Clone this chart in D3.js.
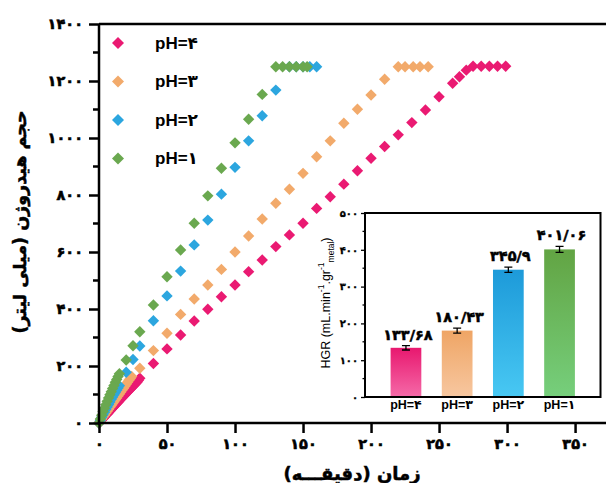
<!DOCTYPE html>
<html lang="fa">
  <head>
    <meta charset="utf-8">
    <title>Hydrogen volume vs time</title>
    <script src="https://d3js.org/d3.v7.js"></script>
    <style>
      body { margin: 0; background: white; }
    </style>
  </head>

  <body>
    <svg></svg>

  <script>

// data

  const series = ["pH=۴", "pH=۳", "pH=۲", "pH=۱"];
  const colors = ["#ea1a72", "#f2aa6b", "#2ca6df", "#6aa84f"];

  const timePH4 = [0,1,2,3,4,5,6,7,8,9,10,11,12,13,14,15,16,17,18,19,20,21,22,23,24,25,26,27,28,29,30,
                   40,50,60,70,80,90,100,110,120,130,140,150,160,170,180,190,200,210,220,230,240,250,260,265,270,275,281,287,293,299];
  const volPH4  = [0,6,11,16,21,27,32,37,42,47,53,58,63,68,73,79,84,89,94,99,104,109,114,119,124,129,134,139,144,150,157,
                   209,260,309,358,399,443,484,531,572,619,660,701,753,794,838,885,929,970,1011,1054,1098,1145,1192,1215,1238,1252,1252,1252,1252,1252];

  const timePH3 = [0,1,2,3,4,5,6,7,8,9,10,11,12,13,14,15,16,17,18,19,20,21,22,23,24,
                   30,40,50,60,70,80,90,100,110,120,130,140,150,160,170,180,190,200,210,220,225,231,236,242];
  const volPH3  = [0,7,14,21,27,34,41,48,55,61,68,75,82,88,95,102,109,116,122,129,136,143,150,156,163,
                   192,254,315,381,435,484,539,600,656,716,771,820,876,934,990,1052,1101,1151,1206,1250,1250,1250,1250,1250];

  const timePH2 = [0,1,2,3,4,5,6,7,8,9,10,11,12,13,14,15,
                   20,25,30,40,50,60,70,80,90,100,110,120,130,140,145,150,155,160];
  const volPH2  = [0,10,20,29,38,47,56,65,74,83,91,99,107,115,123,131,
                   178,223,270,359,446,533,625,712,803,897,990,1078,1168,1250,1250,1250,1250,1250];

  const timePH1 = [0,1,2,3,4,5,6,7,8,9,10,11,12,13,14,15,
                   20,25,30,40,50,60,70,80,90,100,110,120,130,135,140,145,150,153];
  const volPH1  = [0,14,27,40,52,64,76,88,99,110,121,132,143,153,163,173,
                   221,271,320,414,513,607,701,797,894,983,1066,1153,1250,1250,1250,1250,1250,1250];

  const xTicks = [0, 50, 100, 150, 200, 250, 300, 350];
  const yTicks = [0, 200, 400, 600, 800, 1000, 1200, 1400];

// inset bar chart
  const hgrValues = [133.68, 180.43, 345.9, 401.06];
  const hgrErrors = [6, 7, 7, 8];
  const hgrLabels = ["۱۳۳/۶۸", "۱۸۰/۴۳", "۳۴۵/۹", "۴۰۱/۰۶"];
  const insetTicks = [0, 100, 200, 300, 400, 500];

  const barTop = ["#e8186f", "#efa565", "#1d9ad9", "#62a443"];
  const barBottom = ["#f56aa8", "#f7c7a0", "#48c8f3", "#76cf7c"];

  const w = 606;
  const h = 483;

  const faDigits = "۰۱۲۳۴۵۶۷۸۹";
  const toFa = v => String(v).replace(/\d/g, c => faDigits[+c]);

  const numFont = "'DejaVu Sans', sans-serif";
  const latFont = "'Liberation Sans', Arial, 'DejaVu Sans', sans-serif";

  // heavy look for the persian digits
  const heavy = (sel, sw) => sel
      .attr("font-family", numFont)
      .attr("font-weight", "bold")
      .attr("fill", "black")
      .attr("stroke", "black")
      .attr("stroke-width", sw);

  const svg = d3.select("svg")
      .attr("width", w)
      .attr("height", h);

  svg.append("rect")
      .attr("width", w)
      .attr("height", h)
      .attr("fill", "white");

  const x = d3.scaleLinear()
      .domain([0, 372])
      .range([99, 605]);

  const y = d3.scaleLinear()
      .domain([0, 1400])
      .range([423, 24]);

// points, pH=4 first so pH=1 ends on top

  const diamond = r => `M0,${-r}L${r},0L0,${r}L${-r},0Z`;

  const allSeries = [
    {times: timePH4, vols: volPH4},
    {times: timePH3, vols: volPH3},
    {times: timePH2, vols: volPH2},
    {times: timePH1, vols: volPH1}
  ];

  allSeries.forEach((s, i) => {
    svg.append("g")
      .selectAll("path")
      .data(s.times.map((t, j) => ({t: t, v: s.vols[j]})))
      .enter().append("path")
        .attr("d", diamond(5.7))
        .attr("transform", d => `translate(${x(d.t)},${y(d.v)})`)
        .attr("fill", colors[i]);
  });

// axes

  const xAxis = svg.append("g")
      .attr("transform", "translate(0,423)")
      .call(d3.axisBottom(x).tickValues(xTicks).tickSize(10).tickSizeOuter(0)
            .tickPadding(6).tickFormat(toFa));

  xAxis.selectAll(".tick")
      .data(xTicks.map(v => v + 25))
      .enter().append("line")
        .attr("x1", d => x(d)).attr("x2", d => x(d))
        .attr("y1", 0).attr("y2", 6);

  const yAxis = svg.append("g")
      .attr("transform", "translate(99,0)")
      .call(d3.axisLeft(y).tickValues(yTicks).tickSize(10).tickSizeOuter(0)
            .tickPadding(6).tickFormat(toFa));

  yAxis.append("g").selectAll("line")
      .data(yTicks.slice(0, -1).map(v => v + 100))
      .enter().append("line")
        .attr("y1", d => y(d)).attr("y2", d => y(d))
        .attr("x1", 0).attr("x2", -6);

  [xAxis, yAxis].forEach(a => {
    a.selectAll("path, line").attr("stroke", "black").attr("stroke-width", 2.5);
    heavy(a.selectAll("text"), 0.6).attr("font-size", 14.5);
  });
  xAxis.select(".domain").attr("d", "M97.8,0H606");
  yAxis.select(".domain").attr("d", "M0,24V424.2");

  svg.append("line")
      .attr("x1", 99).attr("x2", 606)
      .attr("y1", 24).attr("y2", 24)
      .attr("stroke", "black")
      .attr("stroke-width", 2.5);

// axis titles

  heavy(svg.append("text"), 0.5)
      .attr("x", 352)
      .attr("y", 475)
      .attr("direction", "rtl")
      .attr("text-anchor", "middle")
      .attr("dominant-baseline", "middle")
      .attr("font-size", 18)
      .text("زمان (دقیقـــه)");

  heavy(svg.append("text"), 0.5)
      .attr("transform", "translate(21,222) rotate(-90)")
      .attr("direction", "rtl")
      .attr("text-anchor", "middle")
      .attr("dominant-baseline", "middle")
      .attr("font-size", 17.5)
      .text("حجم هیدروژن (میلی لیتر)");

// legend

  const legend = svg.append("g")
    .selectAll("g")
    .data(series)
    .enter().append("g")
      .attr("transform", (d, i) => `translate(118,${43 + i * 38.5})`);

  legend.append("path")
      .attr("d", diamond(6))
      .attr("fill", (d, i) => colors[i]);

  legend.append("text")
      .attr("x", 37)
      .attr("dominant-baseline", "central")
      .attr("font-family", latFont)
      .attr("font-weight", "bold")
      .attr("font-size", 17)
      .text(d => d);

// inset

  const inset = {left: 365, top: 213, right: 600.5, bottom: 397};

  const xi = d3.scaleLinear()
      .domain([0.2, 4.8])
      .range([inset.left, inset.right]);

  const yi = d3.scaleLinear()
      .domain([0, 500])
      .range([inset.bottom, inset.top]);

  svg.append("rect")
      .attr("x", inset.left)
      .attr("y", inset.top)
      .attr("width", inset.right - inset.left)
      .attr("height", inset.bottom - inset.top)
      .attr("fill", "white");

  const defs = svg.append("defs");
  barTop.forEach((c, i) => {
    const g = defs.append("linearGradient")
        .attr("id", "grad" + i)
        .attr("x1", 0).attr("y1", 0).attr("x2", 0).attr("y2", 1);
    g.append("stop").attr("offset", "0%").attr("stop-color", c);
    g.append("stop").attr("offset", "100%").attr("stop-color", barBottom[i]);
  });

  const bars = svg.append("g")
    .selectAll("g")
    .data(hgrValues)
    .enter().append("g");

  bars.append("rect")
      .attr("x", (d, i) => xi(i + 1 - 0.3))
      .attr("width", xi(0.8) - xi(0.2))
      .attr("y", d => yi(d))
      .attr("height", d => inset.bottom - yi(d))
      .attr("fill", (d, i) => `url(#grad${i})`);

  bars.append("path")
      .attr("d", (d, i) => {
        const cx = xi(i + 1), t = yi(d + hgrErrors[i]), b = yi(d - hgrErrors[i]);
        return `M${cx - 4},${t}H${cx + 4}M${cx},${t}V${b}M${cx - 4},${b}H${cx + 4}`;
      })
      .attr("stroke", "black")
      .attr("stroke-width", 1.3)
      .attr("fill", "none");

  heavy(bars.append("text"), 0.5)
      .attr("x", (d, i) => xi(i + 1) + 2)
      .attr("y", (d, i) => yi(d + hgrErrors[i]) - 6)
      .attr("text-anchor", "middle")
      .attr("font-size", 14.5)
      .text((d, i) => hgrLabels[i]);

  bars.append("text")
      .attr("x", (d, i) => xi(i + 1))
      .attr("y", 406)
      .attr("text-anchor", "middle")
      .attr("dominant-baseline", "middle")
      .attr("font-family", latFont)
      .attr("font-weight", "bold")
      .attr("font-size", 12.5)
      .text((d, i) => series[i]);

  const yiAxis = svg.append("g")
      .attr("transform", `translate(${inset.left},0)`)
      .call(d3.axisLeft(yi).tickValues(insetTicks).tickSize(4).tickSizeOuter(0)
            .tickPadding(3).tickFormat(toFa));

  yiAxis.append("g").selectAll("line")
      .data(insetTicks.slice(0, -1).map(v => v + 50))
      .enter().append("line")
        .attr("y1", d => yi(d)).attr("y2", d => yi(d))
        .attr("x1", 0).attr("x2", -2.5);

  yiAxis.selectAll("line").attr("stroke", "black").attr("stroke-width", 1.3);
  yiAxis.select(".domain").remove();
  heavy(yiAxis.selectAll("text"), 0.3).attr("font-size", 10);

  svg.append("rect")
      .attr("x", inset.left)
      .attr("y", inset.top)
      .attr("width", inset.right - inset.left)
      .attr("height", inset.bottom - inset.top)
      .attr("fill", "none")
      .attr("stroke", "black")
      .attr("stroke-width", 2);

  const hgrTitle = svg.append("text")
      .attr("transform", "translate(327,303) rotate(-90)")
      .attr("text-anchor", "middle")
      .attr("dominant-baseline", "middle")
      .attr("font-family", latFont)
      .attr("font-size", 12.5);

  hgrTitle.append("tspan").text("HGR (mL.min");
  hgrTitle.append("tspan").attr("baseline-shift", "super").attr("font-size", 8.5).text("-1");
  hgrTitle.append("tspan").text(".gr");
  hgrTitle.append("tspan").attr("baseline-shift", "super").attr("font-size", 8.5).text("-1");
  hgrTitle.append("tspan").attr("baseline-shift", "sub").attr("font-size", 8.5).text("metal");
  hgrTitle.append("tspan").text(")");

    </script>

  </body>

</html>
